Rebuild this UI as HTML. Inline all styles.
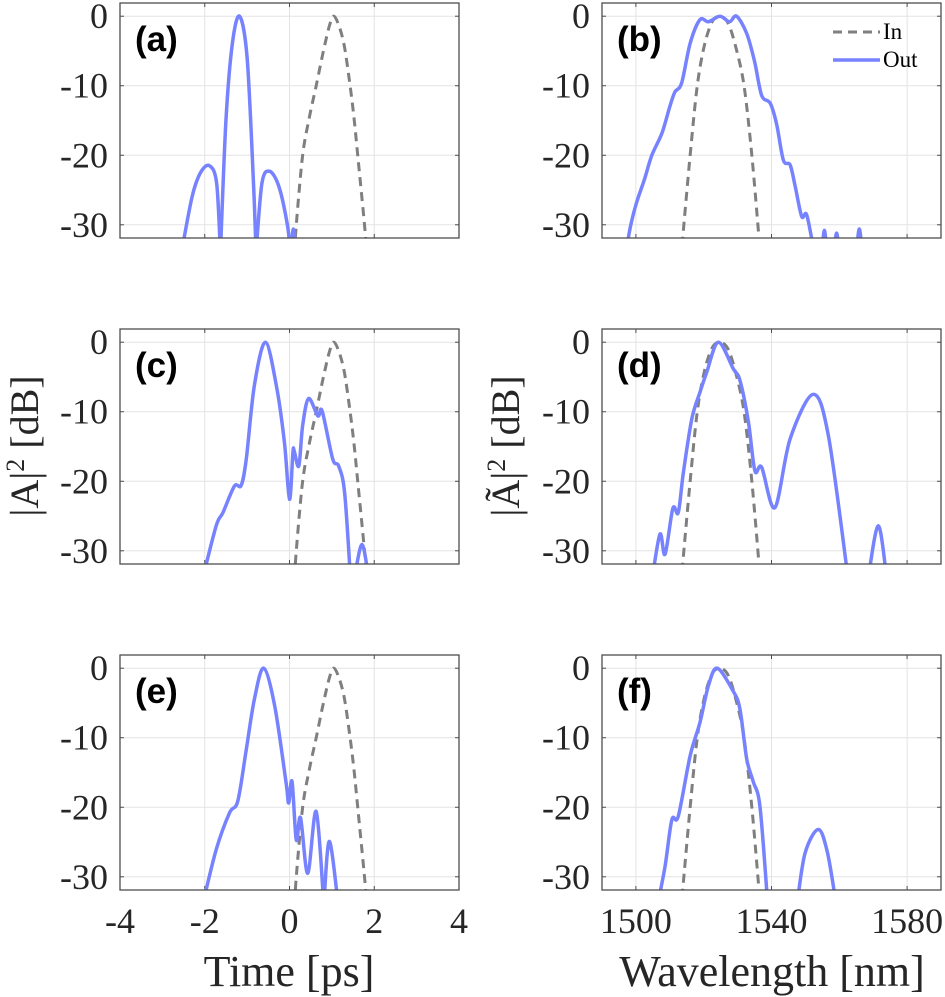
<!DOCTYPE html>
<html><head><meta charset="utf-8"><style>
body{margin:0;background:#fff;}
svg{display:block;font-family:"Liberation Serif",serif;}
</style></head><body>
<svg id="fig" width="945" height="997" viewBox="0 0 945 997" xmlns="http://www.w3.org/2000/svg"></svg>
<script>
// ---- data ----
const timeTicks = [-4, -2, 0, 2, 4];
const wlTicks = [1500, 1540, 1580];
const dbTicks = [0, -10, -20, -30];
const panelLabels = ['(a)', '(b)', '(c)', '(d)', '(e)', '(f)'];

const inTimeX = [0.12, 0.16, 0.31, 0.47, 0.63, 0.8, 0.95, 1.05, 1.18, 1.3, 1.43, 1.52, 1.61, 1.77, 1.82];
const inTimeY = [-34, -30, -20, -14.5, -10, -5, -1.2, 0, -1.6, -4.5, -10, -14.5, -20, -30, -34];
const inWlX = [1513.6, 1516, 1518.1, 1520.2, 1522.5, 1524.8, 1527.2, 1529.5, 1531.9, 1534.2, 1536.5];
const inWlY = [-33, -20, -10, -4.2, -0.8, 0, -1, -4.5, -10, -20, -33];

const aX = [[-2.55, -2.3, -2.1, -1.89, -1.72, -1.63], [-1.63, -1.5, -1.35, -1.18, -1.0, -0.85, -0.79], [-0.79, -0.65, -0.47, -0.25, -0.05, 0.02], [0.04, 0.09, 0.16]];
const aY = [[-34, -26, -22.5, -21.5, -24, -34], [-34, -15, -4, 0, -6, -24, -34], [-34, -24, -22.3, -24.5, -30, -34], [-34, -30.6, -34]];

const bX = [[1497, 1498.5, 1500.2, 1502.5, 1504.7, 1507.7, 1510, 1511.5, 1513.5, 1516, 1518.9, 1521.4, 1524.8, 1527.6, 1529.7, 1532.7, 1535, 1537.1, 1539.6, 1541.5, 1543.5, 1545.5, 1547, 1548.9, 1550.4, 1552.6], [1555, 1555.6, 1556.2], [1558.6, 1559.2, 1559.8], [1565.2, 1565.9, 1566.6]];
const bY = [[-34, -30, -26.8, -23.5, -20, -16.8, -13, -10.9, -9.6, -3.9, -0.5, -0.8, 0, -0.8, 0, -2.5, -6.5, -11.4, -12.5, -15.5, -20.7, -21.4, -24.5, -28.8, -28.6, -34], [-33, -30.8, -33], [-33, -31.2, -33], [-33, -30.6, -33]];

const cX = [[-2.05, -1.73, -1.57, -1.3, -1.14, -1.02, -0.83, -0.57, -0.31, -0.12, 0.0, 0.08, 0.11, 0.22, 0.31, 0.45, 0.67, 0.77, 1.02, 1.16, 1.3, 1.44], [1.53, 1.71, 1.87]];
const cY = [[-34, -26.4, -24.5, -20.7, -20.6, -16.8, -6.25, 0, -6.25, -14.4, -22.6, -15.9, -15.6, -17.8, -12, -8.1, -10.6, -9.9, -16.8, -17.8, -21.6, -34], [-34, -29.1, -34]];

const dX = [[1504.8, 1507.1, 1508.6, 1510.9, 1512.5, 1514, 1516.5, 1518.9, 1520.9, 1524.3, 1528.7, 1530.7, 1533.2, 1535.1, 1537.1, 1541, 1545.5, 1552.3, 1556.8, 1562.6], [1568.5, 1571.5, 1574]];
const dY = [[-34, -27.6, -30.5, -23.9, -24.5, -18.75, -11, -7.2, -4.3, 0, -3.8, -5.5, -11.5, -18.5, -18, -23.8, -13.9, -7.5, -13.5, -34], [-34, -26.4, -34]];

const eX = [[-2.05, -1.73, -1.415, -1.22, -1.02, -0.83, -0.61, -0.35, -0.08, -0.02, 0.06, 0.16, 0.26, 0.43, 0.63, 0.81], [0.81, 0.94, 1.15]];
const eY = [[-34, -26.1, -20.8, -19.1, -11.7, -4.5, 0, -5.4, -16.5, -19.4, -16.3, -24.7, -21.5, -29.5, -20.6, -34], [-34, -24.9, -34]];

const fX = [[1506.4, 1508.6, 1510.6, 1512.5, 1516, 1518.9, 1521.4, 1524, 1528.7, 1530.7, 1532.7, 1534.6, 1536.6, 1538.9], [1547.5, 1549.9, 1553.8, 1556.5, 1559.1]];
const fY = [[-34, -28.5, -21.8, -21.3, -12.6, -7.8, -2.5, 0, -3.3, -5.9, -13.1, -16.3, -19.9, -34], [-34, -26.6, -23.2, -26.5, -34]];

// ---- layout ----
const NS = 'http://www.w3.org/2000/svg';
const svg = document.getElementById('fig');
const cols = [{x0: 120, x1: 459, dmin: -4, dmax: 4, ticks: timeTicks},
              {x0: 602, x1: 941, dmin: 1490, dmax: 1590, ticks: wlTicks}];
const rows = [3, 329, 655];
const H = 235, YMIN = -31.9, YMAX = 1.9;
function el(tag, attrs, parent) { const e = document.createElementNS(NS, tag); for (const k in attrs) e.setAttribute(k, attrs[k]); (parent || svg).appendChild(e); return e; }

function pathFrom(xs, ys, sx, sy) {
  const p = xs.map((x, i) => [sx(x), sy(ys[i])]);
  let d = 'M' + p[0][0].toFixed(2) + ',' + p[0][1].toFixed(2);
  for (let i = 0; i < p.length - 1; i++) {
    const p0 = p[Math.max(0, i - 1)], p1 = p[i], p2 = p[i + 1], p3 = p[Math.min(p.length - 1, i + 2)];
    const t = 0.16;
    const c1 = [p1[0] + (p2[0] - p0[0]) * t, p1[1] + (p2[1] - p0[1]) * t];
    const c2 = [p2[0] - (p3[0] - p1[0]) * t, p2[1] - (p3[1] - p1[1]) * t];
    d += 'C' + c1.map(v => v.toFixed(2)).join(',') + ' ' + c2.map(v => v.toFixed(2)).join(',') + ' ' + p2[0].toFixed(2) + ',' + p2[1].toFixed(2);
  }
  return d;
}

const outData = [[aX, aY], [bX, bY], [cX, cY], [dX, dY], [eX, eY], [fX, fY]];

for (let r = 0; r < 3; r++) {
  for (let c = 0; c < 2; c++) {
    const idx = r * 2 + c;
    const col = cols[c], top = rows[r], bot = top + H;
    const sx = v => col.x0 + (v - col.dmin) / (col.dmax - col.dmin) * (col.x1 - col.x0);
    const sy = v => top + (YMAX - v) / (YMAX - YMIN) * H;
    const g = el('g', {});
    
    
    const cp = el('clipPath', {id: 'clip' + idx}, g);
    el('rect', {x: col.x0, y: top, width: col.x1 - col.x0, height: H}, cp);
    col.ticks.forEach(t => {
      const gl = el('line', {x1: sx(t), x2: sx(t), y1: top, y2: bot, stroke: '#e3e3e3', 'stroke-width': 1}, g);
      
      
      el('line', {x1: sx(t), x2: sx(t), y1: bot, y2: bot - 4, stroke: '#4d4d4d', 'stroke-width': 1}, g);
      el('line', {x1: sx(t), x2: sx(t), y1: top, y2: top + 4, stroke: '#4d4d4d', 'stroke-width': 1}, g);
      if (r === 2) {
        const tl = el('text', {x: sx(t), y: 933, 'text-anchor': 'middle', 'font-size': 36, fill: '#262626'}, g);
        tl.textContent = String(t);
        
        
      }
    });
    dbTicks.forEach(t => {
      const gl = el('line', {x1: col.x0, x2: col.x1, y1: sy(t), y2: sy(t), stroke: '#e3e3e3', 'stroke-width': 1}, g);
      
      
      el('line', {x1: col.x0, x2: col.x0 + 4, y1: sy(t), y2: sy(t), stroke: '#4d4d4d', 'stroke-width': 1}, g);
      el('line', {x1: col.x1, x2: col.x1 - 4, y1: sy(t), y2: sy(t), stroke: '#4d4d4d', 'stroke-width': 1}, g);
      const tl = el('text', {x: col.x0 - 12, y: sy(t) + 12, 'text-anchor': 'end', 'font-size': 36, fill: '#262626'}, g);
      tl.textContent = String(t);
      
      
    });
    const inX = c === 0 ? inTimeX : inWlX, inY = c === 0 ? inTimeY : inWlY;
    const ip = el('path', {d: pathFrom(inX, inY, sx, sy), fill: 'none', stroke: '#7f7f7f', 'stroke-width': 3, 'stroke-dasharray': '9,6', 'clip-path': 'url(#clip' + idx + ')'}, g);
    
    
    const [ox, oy] = outData[idx];
    ox.forEach((xs, k) => {
      const op = el('path', {d: pathFrom(xs, oy[k], sx, sy), fill: 'none', stroke: '#7782ff', 'stroke-width': 3.5, 'stroke-linejoin': 'round', 'clip-path': 'url(#clip' + idx + ')'}, g);
      
      
    });
    const box = el('rect', {x: col.x0, y: top, width: col.x1 - col.x0, height: H, fill: 'none', stroke: '#4d4d4d', 'stroke-width': 1.3}, g);
    
    
    const pl = el('text', {x: col.x0 + 15, y: top + 48, 'font-family': 'Liberation Sans, sans-serif', 'font-weight': 'bold', 'font-size': 35, fill: '#000'}, g);
    pl.textContent = panelLabels[idx];
    
    
  }
}
const lg = el('g', {});


el('line', {x1: 833, x2: 880, y1: 32, y2: 32, stroke: '#7f7f7f', 'stroke-width': 3, 'stroke-dasharray': '9,6'}, lg);
el('line', {x1: 833, x2: 880, y1: 60, y2: 60, stroke: '#7782ff', 'stroke-width': 3.5}, lg);
const t1 = el('text', {x: 883, y: 39, 'font-size': 23, fill: '#000'}, lg); t1.textContent = 'In';


const t2 = el('text', {x: 883, y: 67, 'font-size': 23, fill: '#000'}, lg); t2.textContent = 'Out';


const xt1 = el('text', {x: 289, y: 986, 'text-anchor': 'middle', 'font-size': 44, fill: '#262626'}); xt1.textContent = 'Time [ps]';


const xt2 = el('text', {x: 772, y: 986, 'text-anchor': 'middle', 'font-size': 44, fill: '#262626'}); xt2.textContent = 'Wavelength [nm]';


const yt1 = el('text', {x: 0, y: 0, 'text-anchor': 'middle', 'font-size': 40, fill: '#262626', transform: 'translate(38,446) rotate(-90)'});
yt1.innerHTML = '|A|<tspan dy="-14" font-size="26">2</tspan><tspan dy="14"> [dB]</tspan>';


const yt2 = el('text', {x: 0, y: 0, 'text-anchor': 'middle', 'font-size': 40, fill: '#262626', transform: 'translate(519,446) rotate(-90)'});
yt2.innerHTML = '|Ã|<tspan dy="-14" font-size="26">2</tspan><tspan dy="14"> [dB]</tspan>';


</script>
</body></html>
